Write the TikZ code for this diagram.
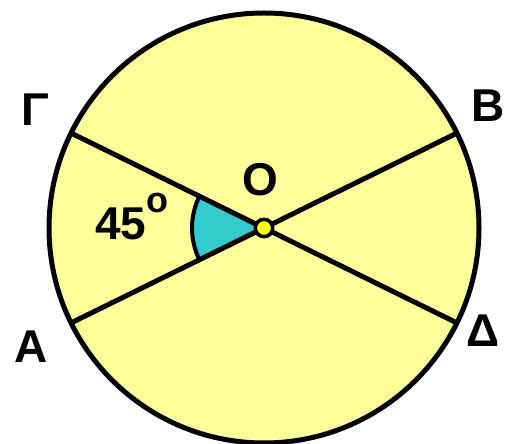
\documentclass[tikz,border=0pt]{standalone}
\usepackage{fontspec}
\setmainfont{Liberation Sans}
\usepackage{tikz}
\usetikzlibrary{calc}
\definecolor{discY}{HTML}{FFFF99}
\definecolor{angT}{HTML}{33CCCC}
\definecolor{dotY}{HTML}{FFFF00}

\begin{document}
\begin{tikzpicture}[x=1pt,y=1pt,
    lbl/.style={font=\fontsize{46}{50}\selectfont\bfseries,inner sep=0pt},
    disc/.style={draw,line width=5pt,fill=discY},
    chord/.style={line width=5pt},
    centre/.style={draw,line width=3.5pt,fill=dotY}]
  \useasboundingbox (0,0) rectangle (509,444);
  % ---- circle and diameters ----
  \coordinate (O) at (264,216);
  \draw[disc] (O) circle[radius=215];
  \coordinate (B) at ($(O)+(26.2:215)$);
  \coordinate (G) at ($(O)+(153.8:215)$);
  \coordinate (A) at ($(O)+(206.2:215)$);
  \coordinate (D) at ($(O)+(333.8:215)$);
  % ---- angle ----
  \fill[angT] (O) -- ++(153.8:72) arc[start angle=153.8,end angle=206.2,radius=72] -- cycle;
  \draw[line width=4pt] (O) ++(153.8:72) arc[start angle=153.8,end angle=206.2,radius=72];
  \draw[chord] (A) -- (B);
  \draw[chord] (G) -- (D);
  \draw[centre] (O) circle[radius=8.7];
  % ---- labels ----
  \node[lbl] (lblG) at (35,334) {Γ};
  \node[lbl] (lblA) at (31,97) {A};
  \node[lbl] (lblB) at (488,338) {B};
  \node[lbl] (lblD) at (483,113) {Δ};
  \node[lbl] (lblO) at (260,264) {O};
  \node[lbl,anchor=base west] (ang) at (95,204) {45\raisebox{27pt}{\fontsize{36}{36}\selectfont o}};
\end{tikzpicture}
\end{document}
